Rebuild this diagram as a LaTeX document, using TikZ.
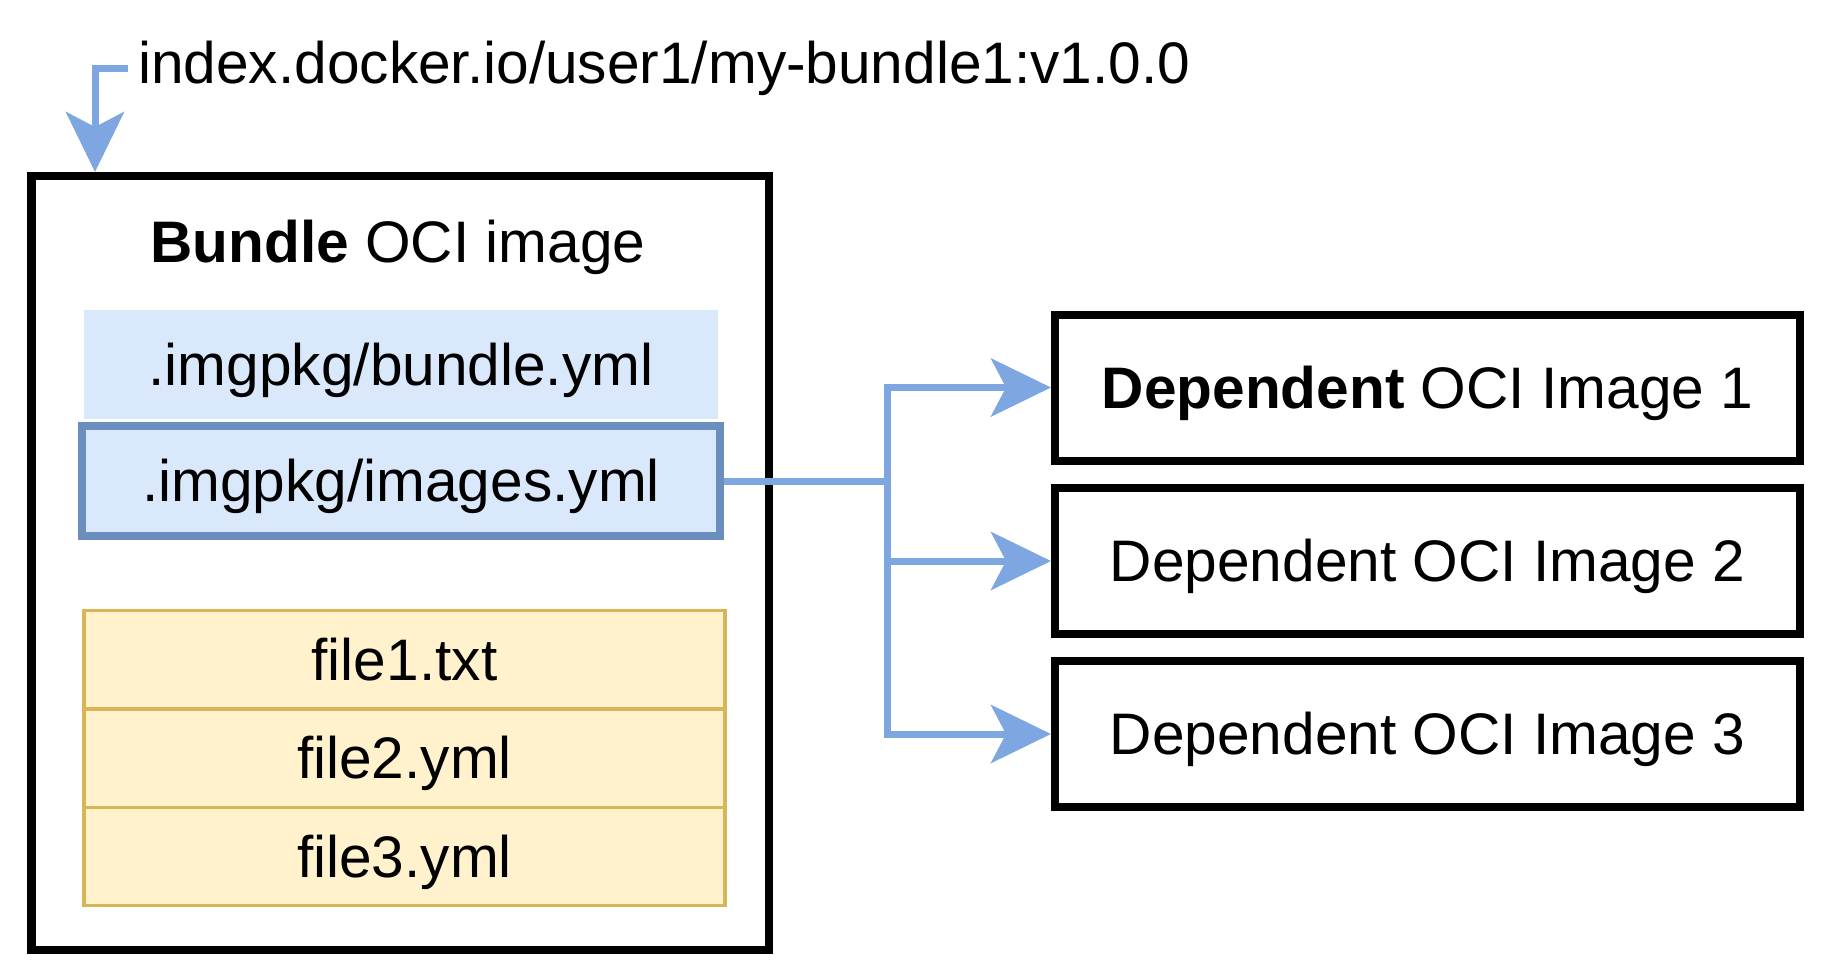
\documentclass[tikz,border=0pt]{standalone}
\usepackage{fontspec}
\setmainfont{Liberation Sans}
\usetikzlibrary{arrows.meta}
\definecolor{arrowblue}{HTML}{7EA6E0}
\definecolor{imgstroke}{HTML}{6C8EBF}
\definecolor{imgfill}{HTML}{DAE8FC}
\definecolor{filefill}{HTML}{FFF2CC}
\definecolor{filestroke}{HTML}{D6B656}
\begin{document}
\begin{tikzpicture}[x=1pt,y=1pt,
  every node/.style={font=\fontsize{58.6}{70}\selectfont, inner sep=0pt, text height=41pt, text depth=0pt},
  outerbox/.style={draw=black, line width=8.5pt, fill=white, minimum width=737.5pt, minimum height=774pt},
  depbox/.style={draw=black, line width=8pt, minimum width=745pt, minimum height=146pt},
  ymlfill/.style={fill=imgfill, minimum width=634pt, minimum height=109pt},
  ymlbox/.style={draw=imgstroke, fill=imgfill, line width=8pt, minimum width=638pt, minimum height=110pt},
  filebox/.style={draw=filestroke, fill=filefill, line width=3.5pt, minimum width=641pt, minimum height=98.4pt},
  conn/.style={draw=arrowblue, line width=7pt, -{Stealth[length=60pt, width=58pt, inset=15pt]}}
]
\useasboundingbox (0,0) rectangle (1834,-972);
% bundle
\node[outerbox] (bundle) at (400.25,-563) {};
\node (title) at (398,-241.5) {\textbf{Bundle} OCI image};
\node[ymlfill] (byml) at (401,-364.5) {.imgpkg/bundle.yml};
\node[ymlbox] (iyml) at (401,-481) {.imgpkg/images.yml};
\node[filebox] (f1) at (404.5,-659.7) {file1.txt};
\node[filebox] (f2) at (404.5,-758.1) {file2.yml};
\node[filebox] (f3) at (404.5,-856.5) {file3.yml};
% dependents
\node[depbox] (d1) at (1427.5,-387.5) {\textbf{Dependent} OCI Image 1};
\node[depbox] (d2) at (1427.5,-561) {Dependent OCI Image 2};
\node[depbox] (d3) at (1427.5,-734) {Dependent OCI Image 3};
% top label
\node[anchor=base west, text height=, text depth=] (ref) at (138,-83) {index.docker.io/user1/my-bundle1:v1.0.0};
\coordinate (refstart) at (128,-68);
\coordinate (reftip) at (95,-172);
\draw[conn] (refstart) -| (reftip);
% connectors
\coordinate (spine) at (887,-481);
\draw[conn] (iyml.east) -- (spine) |- (d1.west);
\draw[conn] (spine) |- (d2.west);
\draw[conn] (spine) |- (d3.west);
\end{tikzpicture}
\end{document}
